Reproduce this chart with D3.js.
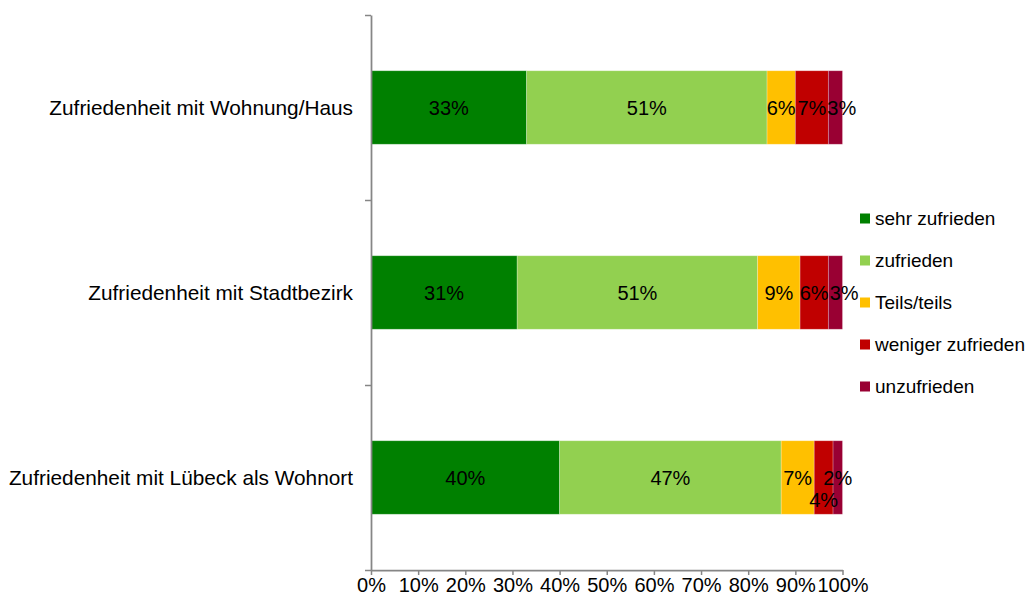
<!DOCTYPE html>
<html>
<head>
<meta charset="utf-8">
<script src="https://cdn.jsdelivr.net/npm/d3@7"></script>
<style>
  html, body { margin: 0; padding: 0; background: #fff; }
  svg { display: block; font-family: "Liberation Sans", Arial, sans-serif; }
</style>
</head>
<body>
<svg id="chart" width="1030" height="604"></svg>
<script>
// Zufriedenheit – Anteile in Prozent je Bereich
const categories = [
  "Zufriedenheit mit Wohnung/Haus",
  "Zufriedenheit mit Stadtbezirk",
  "Zufriedenheit mit Lübeck als Wohnort"
];
const seriesNames = ["sehr zufrieden", "zufrieden", "Teils/teils", "weniger zufrieden", "unzufrieden"];
const sehrZufrieden    = [33, 31, 40];
const zufrieden        = [51, 51, 47];
const teilsTeils       = [6, 9, 7];
const wenigerZufrieden = [7, 6, 4];
const unzufrieden      = [3, 3, 2];
const xTickValues = [0, 10, 20, 30, 40, 50, 60, 70, 80, 90, 100];
const seriesColors = ["#008000", "#92D050", "#FFC000", "#C00000", "#990033"];

// Build rows for d3.stack
const seriesValues = [sehrZufrieden, zufrieden, teilsTeils, wenigerZufrieden, unzufrieden];
const rows = categories.map((c, i) => {
  const r = { category: c };
  seriesNames.forEach((s, k) => { r[s] = seriesValues[k][i]; });
  return r;
});

const svg = d3.select("#chart");
const plot = { left: 371, right: 842.5, top: 15, bottom: 570 };

const x = d3.scaleLinear().domain([0, 100]).range([plot.left, plot.right]);
const y = d3.scaleBand()
  .domain(categories)
  .range([plot.top, plot.bottom])
  .paddingInner(0.6027)
  .paddingOuter(0.30135);
const color = d3.scaleOrdinal().domain(seriesNames).range(seriesColors);

const stacked = d3.stack().keys(seriesNames)(rows);

// Bars
const layers = svg.append("g").selectAll("g")
  .data(stacked)
  .join("g")
  .attr("fill", d => color(d.key));

layers.selectAll("rect")
  .data(d => d.map(v => ({ v, key: d.key })))
  .join("rect")
  .attr("x", d => x(d.v[0]))
  .attr("y", d => y(d.v.data.category))
  .attr("width", d => x(d.v[1]) - x(d.v[0]))
  .attr("height", y.bandwidth())
  .attr("stroke", "rgba(255,255,255,0.3)")
  .attr("stroke-width", 0.8);

// Value labels: one label in the last row drops below its neighbour,
// others on the same line are nudged right so they don't collide.
const loweredLabels = new Set(["2|weniger zufrieden"]);
const labelGroup = svg.append("g");
categories.forEach((cat, row) => {
  let prevRight = -Infinity;
  stacked.forEach(layer => {
    const v = layer[row];
    const lowered = loweredLabels.has(row + "|" + layer.key);
    const t = labelGroup.append("text")
      .attr("text-anchor", "middle")
      .attr("fill", "#000")
      .style("font-size", "20px")
      .attr("y", y(cat) + y.bandwidth() / 2 + 7.5 + (lowered ? 22 : 0))
      .text((v[1] - v[0]) + "%");
    const w = t.node().getComputedTextLength();
    let cx = (x(v[0]) + x(v[1])) / 2;
    if (!lowered) {
      if (cx - w / 2 < prevRight + 1) cx = prevRight + 1 + w / 2;
      prevRight = cx + w / 2;
    }
    t.attr("x", cx);
  });
});

// Bottom axis
const xAxis = svg.append("g")
  .attr("transform", `translate(0,${plot.bottom})`)
  .call(d3.axisBottom(x).tickValues(xTickValues).tickFormat(d => d + "%").tickSize(5).tickSizeOuter(0).tickPadding(3));
xAxis.select(".domain").attr("stroke", "#868686").attr("stroke-width", 1.75);
xAxis.selectAll(".tick line").attr("stroke", "#868686").attr("stroke-width", 1.5);
xAxis.selectAll(".tick text").attr("fill", "#000").style("font-size", "20px").style("font-family", "'Liberation Sans', Arial, sans-serif");

// Left axis with ticks at category boundaries
const yEdge = d3.scaleLinear().domain([0, categories.length]).range([plot.bottom, plot.top]);
const yAxis = svg.append("g")
  .attr("transform", `translate(${plot.left},0)`)
  .call(d3.axisLeft(yEdge).tickValues(d3.range(categories.length + 1)).tickFormat("").tickSize(6).tickSizeOuter(0));
yAxis.select(".domain").attr("stroke", "#868686").attr("stroke-width", 1.75);
yAxis.selectAll(".tick line").attr("stroke", "#868686").attr("stroke-width", 1.5);

// Category labels
svg.append("g").selectAll("text")
  .data(categories)
  .join("text")
  .attr("x", 353)
  .attr("y", d => y(d) + y.bandwidth() / 2 + 7.5)
  .attr("text-anchor", "end")
  .attr("fill", "#000")
  .style("font-size", "20.8px")
  .text(d => d);

// Legend
const legend = svg.append("g").attr("transform", "translate(860,218.5)");
const item = legend.selectAll("g")
  .data(seriesNames)
  .join("g")
  .attr("transform", (d, i) => `translate(0,${i * 42})`);
item.append("rect")
  .attr("x", 0).attr("y", -5)
  .attr("width", 10).attr("height", 10)
  .attr("fill", d => color(d));
item.append("text")
  .attr("x", 15).attr("y", 6.8)
  .attr("fill", "#000")
  .style("font-size", "19px")
  .text(d => d);
</script>
</body>
</html>
